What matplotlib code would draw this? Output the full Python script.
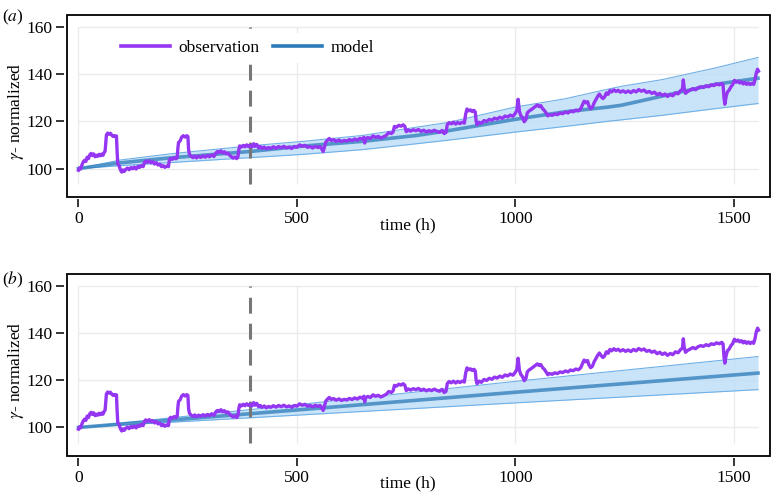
import numpy as np
import matplotlib
matplotlib.use("Agg")
import matplotlib.pyplot as plt
from matplotlib.lines import Line2D
from matplotlib.patches import Rectangle

plt.rcParams['font.family'] = ['Liberation Serif', 'DejaVu Serif']
plt.rcParams['mathtext.fontset'] = 'stix'

# observation (same in both panels)
obs_t = [0, 2, 5, 8, 11, 14, 17, 20, 23, 26,
         29, 32, 35, 38, 41, 44, 47, 50, 53, 56,
         59, 61, 62.5, 64, 67, 70, 73, 76, 79, 82,
         85, 87, 88.5, 90, 93, 96, 99, 102, 105, 108,
         112, 116, 120, 124, 128, 132, 136, 140, 144, 148,
         151, 154, 158, 162, 166, 170, 174, 178, 182, 186,
         190, 194, 198, 202, 206, 208, 211, 215, 219, 223,
         226, 227.5, 229, 233, 236, 240, 244, 248, 250.5, 252,
         254, 258, 262, 266, 270, 275, 280, 285, 290, 295,
         300, 305, 310, 314, 318, 322, 326, 330, 334, 338,
         342, 346, 350, 354, 358, 362, 365, 367, 369, 373,
         377, 381, 385, 389, 393, 397, 401, 404, 408, 412,
         416, 420, 425, 430, 435, 440, 446, 452, 458, 464,
         470, 476, 482, 488, 494, 500, 506, 512, 518, 524,
         530, 536, 542, 548, 553, 557, 560, 563, 566, 570,
         574, 578, 584, 590, 596, 602, 608, 614, 620, 626,
         632, 638, 644, 650, 653, 655, 657, 662, 668, 674,
         680, 686, 692, 698, 704, 710, 716, 720, 723, 728,
         733, 738, 743, 747, 750, 755, 760, 766, 772, 778,
         784, 790, 796, 802, 808, 814, 820, 826, 832, 837,
         841, 844, 848, 853, 858, 863, 868, 873, 878, 883,
         886, 889, 893, 897, 901, 905, 908, 910, 912, 917,
         922, 928, 934, 940, 946, 952, 958, 964, 970, 976,
         982, 988, 994, 999, 1003, 1006, 1009, 1012, 1016, 1020,
         1024, 1027, 1031, 1036, 1041, 1046, 1050, 1054, 1058, 1062,
         1066, 1070, 1074, 1078, 1084, 1090, 1096, 1102, 1108, 1114,
         1120, 1126, 1132, 1138, 1144, 1149, 1153, 1157, 1161, 1165,
         1168, 1172, 1176, 1180, 1184, 1188, 1192, 1196, 1200, 1204,
         1208, 1212, 1216, 1220, 1225, 1230, 1235, 1240, 1246, 1252,
         1258, 1264, 1270, 1276, 1282, 1288, 1294, 1300, 1306, 1312,
         1318, 1324, 1330, 1336, 1342, 1348, 1354, 1360, 1366, 1372,
         1378, 1382, 1384, 1386, 1389, 1394, 1400, 1406, 1412, 1418,
         1424, 1430, 1436, 1442, 1448, 1454, 1460, 1466, 1472, 1475,
         1477, 1479, 1482, 1485, 1489, 1493, 1497, 1501, 1505, 1509,
         1513, 1517, 1521, 1525, 1529, 1533, 1537, 1541, 1545, 1548,
         1551, 1554, 1556]
obs_y = [99.3, 100.2, 99.8, 101.5, 102.8, 103.5, 103, 104.8, 104.2, 105.8,
         106.4, 105.5, 106.2, 105, 105.6, 105.2, 106, 105.4, 106.1, 105.6,
         106.8, 107.3, 111, 114.2, 115, 114.5, 114.9, 114.2, 113.6, 113.9,
         113.4, 113.8, 107, 102, 101.2, 99.5, 98.5, 99.4, 98.8, 99.6,
         100.2, 99.5, 100.4, 99.9, 100.6, 99.8, 100.9, 100.5, 101.3, 100.8,
         102.5, 103.2, 102.6, 103.3, 102.4, 102.9, 101.9, 102.5, 101.5, 101.9,
         100.8, 101.2, 100.5, 101.1, 100.8, 103.6, 104.3, 103.9, 104.6, 104.1,
         104.6, 108.5, 111, 111.8, 113.2, 113.9, 113.3, 113.9, 113.5, 108,
         106, 105.2, 104.6, 105.3, 104.5, 105.2, 104.7, 105.4, 104.8, 105.5,
         105, 105.8, 105.1, 106.5, 107.2, 106.8, 107.5, 106.6, 107.1, 106.2,
         106.6, 105.6, 105, 104.4, 104.9, 104.2, 105, 108, 109.6, 109.1,
         109.8, 109.2, 110, 109.3, 109.8, 109.1, 110.5, 109.4, 110.2, 108.8,
         109.3, 108.5, 109.1, 108.3, 108.9, 108.5, 109.2, 108.6, 109.3, 108.8,
         109.4, 108.7, 109.1, 108.5, 109.3, 109, 110, 109.4, 109.8, 109,
         109.3, 108.7, 109.4, 108.9, 109.3, 108.2, 107.2, 109.2, 111.2, 112,
         112.7, 111.9, 112.2, 111.5, 112.1, 111.4, 111.9, 111.6, 112.3, 111.8,
         112.5, 112, 112.8, 112.4, 113.2, 110.8, 112.6, 113.1, 112.7, 113.8,
         113.2, 113.6, 112.9, 113.4, 114, 115.2, 114.8, 115.5, 117.8, 117.5,
         118.3, 117.9, 118.5, 117.8, 115.6, 116.3, 115.8, 116.4, 116, 116.5,
         115.7, 116.2, 115.5, 116, 115.6, 116.2, 115.7, 115.3, 116.1, 114.8,
         115.3, 118.6, 119.4, 118.9, 119.6, 118.8, 119.5, 119, 119.6, 119.2,
         123, 125.2, 124.4, 124.8, 124.1, 124.6, 123.9, 120, 118.5, 119.6,
         119.1, 120.3, 119.9, 120.8, 120.4, 121.3, 120.9, 121.7, 121.2, 122.2,
         121.8, 122.6, 122.1, 123.2, 124.5, 129.3, 124.2, 122.5, 121.5, 119.8,
         120.8, 123.5, 124.3, 124.9, 125.6, 126.3, 126.9, 126.2, 126.6, 125.3,
         124.6, 123.5, 122.3, 122.8, 122.5, 123.1, 122.8, 123.5, 123.2, 123.9,
         123.5, 124.3, 124, 124.7, 124.4, 125.2, 126.8, 128.5, 127.8, 128.3,
         126.5, 125.3, 125.9, 127.8, 129.2, 130.5, 131.5, 130.4, 129.6, 130.3,
         132, 131.4, 133, 132.4, 133.3, 132.6, 133.1, 132.3, 132.9, 132.2,
         132.8, 132.1, 133, 132.4, 133.4, 132.7, 133.2, 132.2, 132.6, 131.8,
         132.3, 131.2, 131.8, 130.9, 131.5, 130.5, 131.3, 130.8, 132, 131.6,
         133, 133.5, 137.5, 134, 131.8, 132.6, 133.2, 133.8, 133.3, 134.2,
         134.6, 134.3, 135, 134.6, 135.4, 135.1, 135.8, 135.4, 136, 135.3,
         130, 127.2, 130.5, 132.4, 133.2, 134.6, 135.5, 137.3, 136.5, 137,
         136.2, 136.7, 135.8, 136.4, 135.6, 136.2, 135.5, 136.1, 135.6, 137.5,
         140.5, 142, 141.2]

# model (a)
ma_t = [0, 95, 209, 392, 514, 650, 774, 846, 999, 1113, 1212, 1243, 1335, 1456, 1555]
ma_y = [100, 102.4, 104.5, 107.2, 109.5, 111.5, 114, 116, 120.8, 124, 126, 126.8, 130.6, 135.6, 138.2]
ma_hi = [100, 103.6, 106.2, 109.6, 111.5, 114, 117.5, 119.5, 126, 129.5, 133.6, 134.8, 137.6, 142.5, 147]
ma_lo = [100, 101.2, 102.5, 104.6, 106, 108, 110.5, 112, 115.4, 117.8, 120, 120.6, 122.5, 125.3, 127.5]

# model (b)
mb_t = [0, 500, 1000, 1555]
mb_y = [100, 107.4, 114.9, 123]
mb_hi = [100, 109.6, 119.5, 130]
mb_lo = [100, 105.2, 110.4, 116]

split_time = 392
xticks = [0, 500, 1000, 1500]
yticks = [100, 120, 140, 160]

obs_col = '#9436f2'
mod_col = '#2b7bba'

fig = plt.figure(figsize=(7.71, 4.96), dpi=100)
ax1 = fig.add_axes([0.087, 0.603, 0.9115, 0.367])
ax2 = fig.add_axes([0.087, 0.081, 0.9115, 0.367])

panels = [(ax1, ma_t, ma_y, ma_hi, ma_lo, '($a$)', 0.985),
          (ax2, mb_t, mb_y, mb_hi, mb_lo, '($b$)', 0.457)]

for ax, mt, my, mhi, mlo, lab, ly in panels:
    ax.set_xlim(-26, 1582)
    ax.set_ylim(88, 165)
    # light grid only over the data range
    ax.hlines(yticks, 0, 1556, color='#ebebeb', lw=1, zorder=0)
    ax.vlines(xticks, 93.5, 160, color='#ebebeb', lw=1, zorder=0)
    ax.fill_between(mt, mlo, mhi, color='#bcdcf7', alpha=0.8, lw=0, zorder=1)
    ax.plot(mt, mhi, color='#6fb0e6', lw=0.8, zorder=1)
    ax.plot(mt, mlo, color='#6fb0e6', lw=0.8, zorder=1)
    ax.plot(mt, my, color=mod_col, lw=2.6, alpha=0.75, zorder=2)
    ax.plot(obs_t, obs_y, color=obs_col, lw=2.4, zorder=3)
    ax.vlines(split_time, 93.5, 160, color='#777777', lw=2.2,
              linestyles=(0, (5.2, 3.3)), zorder=2.5)

    for s in ax.spines.values():
        s.set_visible(False)
    ax.spines['left'].set_position(('outward', 2))
    ax.spines['bottom'].set_position(('outward', 1.5))
    ax.add_patch(Rectangle((0, 0), 1, 1, transform=ax.transAxes, fill=False,
                           ec='black', lw=1.3, clip_on=False, zorder=10))
    ax.set_xticks(xticks)
    ax.set_yticks(yticks)
    ax.tick_params(direction='out', length=5.5, width=1.1, labelsize=12.5, pad=3)
    ax.set_xlabel('time (h)', fontsize=12.5)
    ax.xaxis.set_label_coords(0.485, -0.11)
    ax.set_ylabel(r'$\gamma$- normalized', fontsize=12.5)
    ax.yaxis.set_label_coords(-0.058, 0.47)
    fig.text(0.003, ly, lab, fontsize=12.5, va='top', ha='left')

handles = [Line2D([], [], color=obs_col, lw=2.6),
           Line2D([], [], color=mod_col, lw=2.6)]
leg = ax1.legend(handles, ['observation', 'model'], ncol=2, loc='center left',
                 bbox_to_anchor=(0.067, 0.82), borderaxespad=0, fontsize=12.5,
                 handlelength=2.8, handletextpad=0.5, columnspacing=0.8,
                 frameon=True, framealpha=1, edgecolor='none', fancybox=False)
leg.set_zorder(5)

fig.savefig('out.png', dpi=100)
